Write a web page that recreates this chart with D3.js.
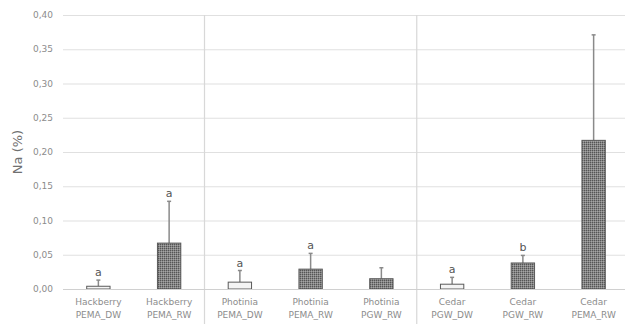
<!DOCTYPE html>
<html><head><meta charset="utf-8">
<script src="https://cdn.jsdelivr.net/npm/d3@7"></script>
<style>body{margin:0;background:#fff}svg{display:block}text{font-family:"DejaVu Sans",sans-serif}</style>
</head><body><svg id="c" width="625" height="324"></svg>
<script>
const species = ["Hackberry","Hackberry","Photinia","Photinia","Photinia","Cedar","Cedar","Cedar"];
const treatments = ["PEMA_DW","PEMA_RW","PEMA_DW","PEMA_RW","PGW_RW","PGW_DW","PGW_RW","PEMA_RW"];
const values = [0.004,0.067,0.010,0.029,0.015,0.007,0.038,0.217];
const errors = [0.009,0.061,0.017,0.023,0.016,0.010,0.011,0.154];
const letters = ["a","a","a","a","","a","b",""];
const yTicks = [0,0.05,0.10,0.15,0.20,0.25,0.30,0.35,0.40];
const groupBreaks = [2,5];

const svg = d3.select("#c");
const L=63, R=629, T=15, B=289;
const idx = d3.range(values.length);
const x = d3.scaleBand().domain(idx).range([L,R]).paddingInner(0.67).paddingOuter(0.335);
const y = d3.scaleLinear().domain([0,0.40]).range([B,T]);

const defs = svg.append("defs");
const pat = defs.append("pattern").attr("id","dots").attr("width",2).attr("height",2).attr("patternUnits","userSpaceOnUse");
pat.append("rect").attr("width",2).attr("height",2).attr("fill","#858585");
pat.append("rect").attr("width",1).attr("height",1).attr("fill","#555");
pat.append("rect").attr("x",1).attr("y",1).attr("width",1).attr("height",1).attr("fill","#a5a5a5");

// gridlines
svg.append("g").selectAll("line").data(yTicks).join("line")
  .attr("x1",L).attr("x2",R).attr("y1",d=>y(d)+0.5).attr("y2",d=>y(d)+0.5)
  .attr("stroke","#e0e0e0").attr("stroke-width",1.2);

// group separators
const step = x.step();
svg.append("g").selectAll("line").data(groupBreaks).join("line")
  .attr("x1",d=>x(d)-x.paddingInner()*step/2).attr("x2",d=>x(d)-x.paddingInner()*step/2)
  .attr("y1",T).attr("y2",324).attr("stroke","#d8d8d8").attr("stroke-width",1.2);

// y axis labels
svg.append("g").selectAll("text").data(yTicks).join("text")
  .attr("x",53).attr("y",d=>y(d)).attr("dy","0.35em").attr("text-anchor","end")
  .attr("font-size",9).attr("fill","#8c8c8c")
  .text(d=>d.toFixed(2).replace(".",","));

// y title
svg.append("text").attr("transform","translate(22,"+((T+B)/2)+") rotate(-90)")
  .attr("text-anchor","middle").attr("font-size",13).attr("fill","#707070").text("Na (%)");

// error bars
const eg = svg.append("g").attr("stroke","#8a8a8a").attr("stroke-width",1.5);
idx.forEach(i=>{
  const cx = x(i)+x.bandwidth()/2;
  eg.append("line").attr("x1",cx).attr("x2",cx).attr("y1",y(values[i])).attr("y2",y(values[i]+errors[i]));
  eg.append("line").attr("x1",cx-2).attr("x2",cx+2).attr("y1",y(values[i]+errors[i])).attr("y2",y(values[i]+errors[i]));
});

// bars
svg.append("g").selectAll("rect").data(idx).join("rect")
  .attr("x",i=>x(i)).attr("width",x.bandwidth())
  .attr("y",i=>y(values[i])).attr("height",i=>y(0)-y(values[i]))
  .attr("fill",i=>treatments[i].endsWith("DW")?"#f4f4f4":"url(#dots)")
  .attr("stroke","#5a5a5a").attr("stroke-width",1);

// axis baseline
svg.append("line").attr("x1",L).attr("x2",R).attr("y1",B+0.5).attr("y2",B+0.5).attr("stroke","#d0d0d0").attr("stroke-width",1.2);

// letters
svg.append("g").selectAll("text").data(idx.filter(i=>letters[i])).join("text")
  .attr("x",i=>x(i)+x.bandwidth()/2).attr("y",i=>y(values[i]+errors[i])-4)
  .attr("text-anchor","middle").attr("font-size",11).attr("fill","#555").text(i=>letters[i]);

// category labels
const cl = svg.append("g").selectAll("text").data(idx).join("text")
  .attr("text-anchor","middle").attr("font-size",9).attr("fill","#8c8c8c");
cl.append("tspan").attr("x",i=>x(i)+x.bandwidth()/2).attr("y",305).text(i=>species[i]);
cl.append("tspan").attr("x",i=>x(i)+x.bandwidth()/2).attr("y",318).text(i=>treatments[i]);
</script></body></html>
